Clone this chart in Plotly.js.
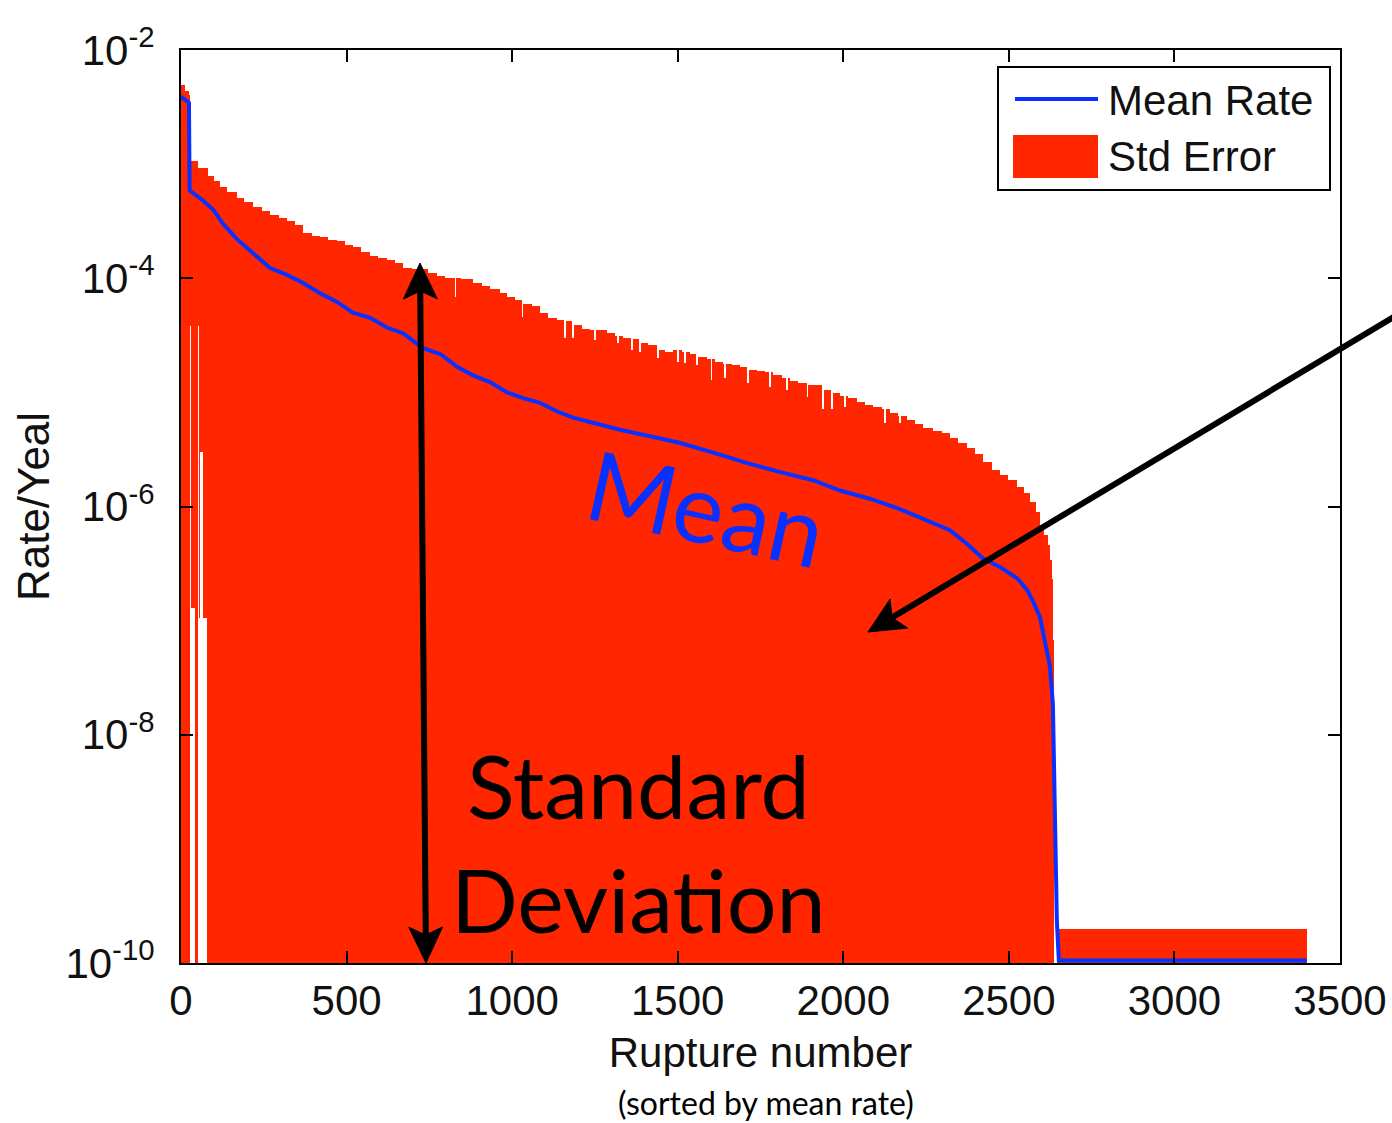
<!DOCTYPE html>
<html>
<head>
<meta charset="utf-8">
<script src="https://cdn.plot.ly/plotly-3.0.1.min.js"></script>
<style>html,body{margin:0;padding:0;background:#fff;}#chart{width:1392px;height:1123px;}</style>
</head>
<body>
<div id="chart"></div>
<script>
// ---------------- DATA ----------------
// Upper edge of the "Std Error" band, as steps over rupture-number bins
const envEdges = [0,12,24,27,52,82,100,118,140,168,190,218,245,269,295,319,345,369,395,420,445,470,495,520,545,571,596,621,646,671,697,722,747,772,797,822,847,882,908,933,963,985,1009,1033,1060,1084,1108,1136,1160,1184,1211,1235,1259,1287,1311,1335,1362,1386,1410,1438,1462,1486,1513,1537,1561,1589,1613,1637,1664,1688,1712,1740,1764,1788,1815,1839,1863,1891,1915,1939,1966,1990,2014,2042,2066,2090,2117,2141,2165,2193,2217,2241,2271,2298,2322,2347,2374,2398,2422,2449,2473,2497,2525,2546,2564,2582,2594,2606,2618,2624,2630,2633,2637,2645,3400];
const envUpper = [4.9e-3,4.4e-3,4.0e-3,1.07e-3,9.3e-4,7.9e-4,7.1e-4,6.3e-4,5.75e-4,5.1e-4,4.7e-4,4.2e-4,3.9e-4,3.6e-4,3.4e-4,3.2e-4,2.9e-4,2.5e-4,2.35e-4,2.3e-4,2.15e-4,2.1e-4,1.95e-4,1.86e-4,1.7e-4,1.58e-4,1.51e-4,1.45e-4,1.35e-4,1.23e-4,1.2e-4,1.2e-4,1.12e-4,1.05e-4,1.0e-4,1.0e-4,9.8e-5,9.1e-5,8.6e-5,8.1e-5,7.4e-5,6.9e-5,6.5e-5,6.0e-5,5.75e-5,5.0e-5,4.5e-5,4.3e-5,4.2e-5,3.9e-5,3.6e-5,3.55e-5,3.55e-5,3.3e-5,3.1e-5,3.0e-5,2.95e-5,2.7e-5,2.6e-5,2.35e-5,2.25e-5,2.35e-5,2.25e-5,2.15e-5,2.05e-5,1.95e-5,1.86e-5,1.78e-5,1.74e-5,1.66e-5,1.58e-5,1.55e-5,1.51e-5,1.41e-5,1.35e-5,1.26e-5,1.2e-5,1.15e-5,1.15e-5,1.05e-5,9.8e-6,9.3e-6,8.9e-6,8.3e-6,7.8e-6,7.4e-6,7.1e-6,6.6e-6,6.2e-6,5.75e-6,5.25e-6,4.9e-6,4.6e-6,4.4e-6,4.0e-6,3.6e-6,3.25e-6,2.9e-6,2.45e-6,2.1e-6,1.9e-6,1.7e-6,1.48e-6,1.32e-6,1.1e-6,8.9e-7,6.9e-7,5.6e-7,4.6e-7,3.4e-7,2.3e-7,6.8e-8,null,2.0e-10];

// Narrow dips in the upper edge
const dipFrom = [826,1029,1158,1182,1248,1318,1360,1384,1438,1499,1520,1556,1601,1641,1710,1777,1828,1889,1937,1964,2003,2124,2169];
const dipTo   = [830,1033,1162,1186,1252,1322,1364,1388,1442,1503,1524,1560,1605,1645,1714,1781,1832,1893,1941,1968,2007,2128,2173];
const dipRate = [6.8e-5,4.6e-5,3.0e-5,3.0e-5,2.9e-5,2.7e-5,2.35e-5,2.25e-5,2.0e-5,1.86e-5,1.8e-5,1.74e-5,1.29e-5,1.35e-5,1.2e-5,1.12e-5,1.05e-5,9.1e-6,7.1e-6,7.1e-6,7.4e-6,5.4e-6,5.4e-6];

// Ruptures whose lower edge of the band is above the plotted floor
const gapFrom  = [28,31,50,53,57,66];
const gapTo    = [31,42,53,57,66,78];
const gapLower = [3.8e-5,1.3e-7,3.8e-5,1.05e-7,3.0e-6,1.05e-7];

// Mean rate curve
const meanRupture = [0,24,26,45,66,97,127,169,217,269,320,369,420,471,519,571,622,670,730,785,836,882,933,985,1033,1084,1136,1184,1235,1287,1326,1420,1508,1610,1710,1810,1909,1990,2080,2171,2271,2322,2374,2422,2473,2525,2555,2573,2594,2609,2624,2633,2636,2639,2645,2651,3400];
const meanRate = [3.9e-3,3.45e-3,5.9e-4,5.4e-4,4.8e-4,4.0e-4,3.0e-4,2.2e-4,1.66e-4,1.23e-4,1.07e-4,9.1e-5,7.4e-5,6.2e-5,5.0e-5,4.5e-5,3.7e-5,3.3e-5,2.45e-5,2.15e-5,1.66e-5,1.41e-5,1.23e-5,1.0e-5,8.9e-6,8.1e-6,6.8e-6,6.0e-6,5.5e-6,5.0e-6,4.7e-6,4.1e-6,3.6e-6,2.95e-6,2.4e-6,2.0e-6,1.7e-6,1.38e-6,1.17e-6,9.5e-7,7.1e-7,6.2e-7,4.7e-7,3.5e-7,2.95e-7,2.35e-7,1.86e-7,1.48e-7,1.07e-7,6.8e-8,4.0e-8,1.86e-8,5.8e-9,1.8e-9,2.3e-10,1.05e-10,1.05e-10];

// Tick labels
const xTickVals = [0,500,1000,1500,2000,2500,3000,3500];
const xTickText = ['0','500','1000','1500','2000','2500','3000','3500'];
const yTickVals = [1e-10,1e-8,1e-6,1e-4,1e-2];
const yTickText = ['10<sup>-10</sup>','10<sup>-8</sup>','10<sup>-6</sup>','10<sup>-4</sup>','10<sup>-2</sup>'];

// ---------------- BUILD BARS ----------------
const FLOOR = 1e-12;
let cutSet = new Set(envEdges);
dipFrom.forEach((v,i)=>{cutSet.add(v);cutSet.add(dipTo[i]);});
gapFrom.forEach((v,i)=>{cutSet.add(v);cutSet.add(gapTo[i]);});
const cuts = Array.from(cutSet).sort((a,b)=>a-b);
const bx=[], bw=[], bbase=[], by=[];
for (let k=0;k<cuts.length-1;k++){
  const a=cuts[k], b=cuts[k+1], mid=(a+b)/2;
  let j=-1;
  for (let i=0;i<envEdges.length-1;i++){ if(mid>=envEdges[i] && mid<envEdges[i+1]){j=i;break;} }
  if (j<0 || envUpper[j]==null) continue;
  let top = envUpper[j];
  dipFrom.forEach((f,i)=>{ if(mid>=f && mid<dipTo[i]) top=Math.min(top,dipRate[i]); });
  let low = FLOOR;
  gapFrom.forEach((f,i)=>{ if(mid>=f && mid<gapTo[i]) low=gapLower[i]; });
  bx.push(mid); bw.push(b-a); bbase.push(low); by.push(top-low);
}

const RED = '#ff2600';
const BLUE = '#0a30ff';
const AX = 'Liberation Sans, Arial, sans-serif';
const GS = 'Lato, Open Sans, sans-serif';

const traces = [
  {type:'bar', name:'Std Error', x:bx, y:by, base:bbase, width:bw,
   marker:{color:RED, line:{width:0}}, hoverinfo:'skip', showlegend:false},
  {type:'scatter', mode:'lines', name:'Mean Rate', x:meanRupture, y:meanRate,
   line:{color:BLUE, width:4}, hoverinfo:'skip', showlegend:false}
];

// pixel -> paper helpers (plot area: x 181..1340, y 50..963)
function px(v){ return (v-181)/1159; }
function py(v){ return (963-v)/913; }
function pathOf(pts){ return 'M' + pts.map(p=>px(p[0]).toFixed(5)+','+py(p[1]).toFixed(5)).join(' L') + ' Z'; }
// stealth arrow head: tip, two back corners, notch between them
function head(tip, toward, len, half, notchDepth){
  const dx=toward[0]-tip[0], dy=toward[1]-tip[1], L=Math.hypot(dx,dy);
  const ux=dx/L, uy=dy/L, nx=-uy, ny=ux;
  const bxp=tip[0]+len*ux, byp=tip[1]+len*uy;
  const nd=len-notchDepth;
  return [tip,[bxp+half*nx,byp+half*ny],[tip[0]+nd*ux,tip[1]+nd*uy],[bxp-half*nx,byp-half*ny]];
}
function along(p,q,d){ const dx=q[0]-p[0],dy=q[1]-p[1],L=Math.hypot(dx,dy); return [p[0]+dx/L*d,p[1]+dy/L*d]; }
const A1top=[420,263], A1bot=[426,963];
const A2tip=[868,632], A2tail=[1402,312];
const s1=along(A1top,A1bot,24), e1=along(A1bot,A1top,24), s2=along(A2tip,A2tail,24);

const layout = {
  width:1392, height:1123,
  margin:{l:181, r:52, t:50, b:160},
  paper_bgcolor:'#fff', plot_bgcolor:'#fff',
  showlegend:false,
  bargap:0,
  xaxis:{range:[0,3500], tickvals:xTickVals, ticktext:xTickText,
    showline:true, linecolor:'#000', linewidth:2, mirror:'ticks',
    ticks:'inside', ticklen:12, tickwidth:2, tickcolor:'#000',
    showgrid:false, zeroline:false,
    tickfont:{family:AX, size:42, color:'#111'},
    title:{text:'Rupture number', font:{family:AX, size:42, color:'#111'}, standoff:14}},
  yaxis:{type:'log', range:[-10,-2], tickvals:yTickVals, ticktext:yTickText,
    showline:true, linecolor:'#000', linewidth:2, mirror:'ticks',
    ticks:'inside', ticklen:12, tickwidth:2, tickcolor:'#000',
    showgrid:false, zeroline:false, ticklabelstandoff:16,
    tickfont:{family:AX, size:42, color:'#111'},
    title:{text:'Rate/Yeal', font:{family:AX, size:44, color:'#111'}, standoff:2}},
  shapes:[
    {type:'rect', xref:'paper', yref:'paper', x0:px(998), x1:px(1330), y0:py(190), y1:py(67),
     line:{color:'#000', width:2}, fillcolor:'#fff', layer:'above'},
    {type:'line', xref:'paper', yref:'paper', x0:px(1015), x1:px(1098), y0:py(99), y1:py(99),
     line:{color:BLUE, width:4}, layer:'above'},
    {type:'rect', xref:'paper', yref:'paper', x0:px(1013), x1:px(1098), y0:py(178), y1:py(135),
     line:{width:0}, fillcolor:RED, layer:'above'},
    // double-headed arrow
    {type:'line', xref:'paper', yref:'paper', x0:px(s1[0]), y0:py(s1[1]), x1:px(e1[0]), y1:py(e1[1]),
     line:{color:'#000', width:6}, layer:'above'},
    {type:'path', xref:'paper', yref:'paper', path:pathOf(head(A1top,A1bot,36,17,8)),
     fillcolor:'#000', line:{color:'#000', width:1}, layer:'above'},
    {type:'path', xref:'paper', yref:'paper', path:pathOf(head(A1bot,A1top,36,17,8)),
     fillcolor:'#000', line:{color:'#000', width:1}, layer:'above'},
    // long pointer arrow
    {type:'line', xref:'paper', yref:'paper', x0:px(s2[0]), y0:py(s2[1]), x1:px(A2tail[0]), y1:py(A2tail[1]),
     line:{color:'#000', width:6}, layer:'above'},
    {type:'path', xref:'paper', yref:'paper', path:pathOf(head(A2tip,A2tail,36,17,8)),
     fillcolor:'#000', line:{color:'#000', width:1}, layer:'above'}
  ],
  annotations:[
    {xref:'paper', yref:'paper', x:px(1106), y:py(100), xanchor:'left', yanchor:'middle',
     text:'Mean Rate', showarrow:false, font:{family:AX, size:42, color:'#111'}},
    {xref:'paper', yref:'paper', x:px(1106), y:py(157), xanchor:'left', yanchor:'middle',
     text:'Std Error', showarrow:false, font:{family:AX, size:42, color:'#111'}},
    {xref:'paper', yref:'paper', x:px(707), y:py(506), xanchor:'center', yanchor:'middle',
     text:'Mean', textangle:12.5, showarrow:false, font:{family:GS, size:96, color:BLUE}},
    {xref:'paper', yref:'paper', x:px(638), y:py(842), xanchor:'center', yanchor:'middle',
     text:'Standard<br>Deviation', showarrow:false, font:{family:GS, size:88, color:'#000'}},
    {xref:'paper', yref:'paper', x:px(766), y:py(1102), xanchor:'center', yanchor:'middle',
     text:'(sorted by mean rate)', showarrow:false, borderpad:0,
     font:{family:GS, size:32, color:'#000'}}
  ]
};

Plotly.newPlot('chart', traces, layout, {staticPlot:true, displayModeBar:false});
</script>
</body>
</html>
